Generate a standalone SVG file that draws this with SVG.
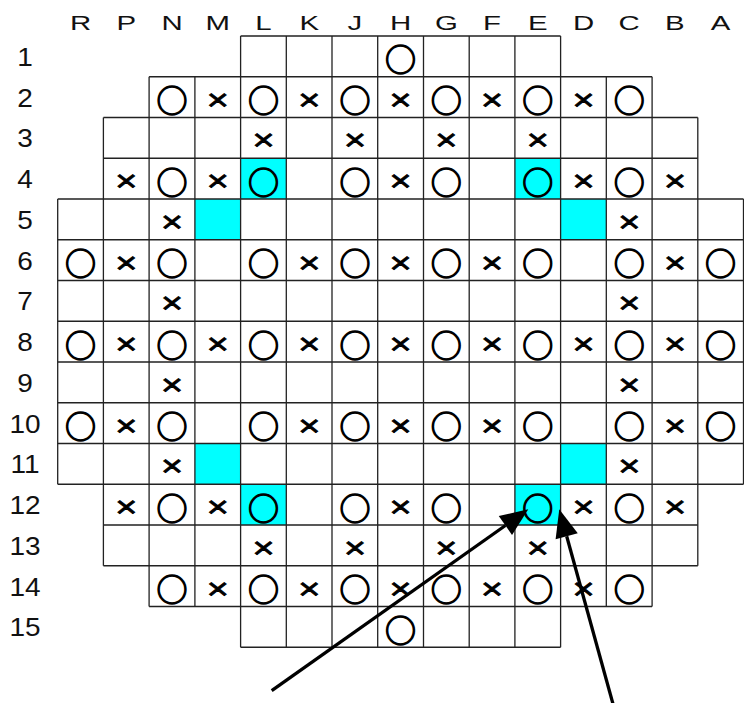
<svg xmlns="http://www.w3.org/2000/svg" width="744" height="703" viewBox="0 0 744 703">
<style>
.g{stroke:#222;stroke-width:1.3;fill:none}
.cy{fill:#00ffff}
.lt{font-family:"Liberation Sans",Arial,sans-serif;font-size:21px;fill:#111;text-anchor:middle}
.nm{font-family:"Liberation Sans",Arial,sans-serif;font-size:25px;fill:#111;text-anchor:middle}
.o{font-family:"Noto Sans CJK JP",sans-serif;font-size:31px;fill:#000;stroke:#000;stroke-width:1.3;text-anchor:middle;dominant-baseline:central}
.x{font-family:"Liberation Sans",Arial,sans-serif;font-size:29px;fill:#000;stroke:#000;stroke-width:0.8;text-anchor:middle;dominant-baseline:central}
.ar{stroke:#000;stroke-width:3.3;fill:none;marker-end:url(#ah)}
</style>
<defs>
<marker id="ah" markerUnits="userSpaceOnUse" markerWidth="28" markerHeight="23" refX="0" refY="11.5" orient="auto" overflow="visible"><path d="M0,0 L28,11.5 L0,23 z" fill="#000"/></marker>
</defs>
<rect width="744" height="703" fill="#fff"/>
<g id="cyan-cells">
<rect class="cy" x="240.6" y="158.25" width="45.7" height="40.75"/>
<rect class="cy" x="514.9" y="158.25" width="45.7" height="40.75"/>
<rect class="cy" x="194.9" y="199" width="45.7" height="40.75"/>
<rect class="cy" x="560.6" y="199" width="45.7" height="40.75"/>
<rect class="cy" x="194.9" y="443.5" width="45.7" height="40.75"/>
<rect class="cy" x="560.6" y="443.5" width="45.7" height="40.75"/>
<rect class="cy" x="240.6" y="484.25" width="45.7" height="40.75"/>
<rect class="cy" x="514.9" y="484.25" width="45.7" height="40.75"/>
</g>
<g id="grid">
<path class="g" d="M240.6,36H560.6M149.1,76.75H652.1M103.4,117.5H697.8M103.4,158.25H697.8M57.7,199H743.5M57.7,239.75H743.5M57.7,280.5H743.5M57.7,321.25H743.5M57.7,362H743.5M57.7,402.75H743.5M57.7,443.5H743.5M57.7,484.25H743.5M103.4,525H697.8M103.4,565.75H697.8M149.1,606.5H652.1M240.6,647.25H560.6"/>
<path class="g" d="M57.7,199V484.25M103.4,117.5V565.75M149.1,76.75V606.5M194.9,76.75V606.5M240.6,36V647.25M286.3,36V647.25M332,36V647.25M377.7,36V647.25M423.5,36V647.25M469.2,36V647.25M514.9,36V647.25M560.6,36V647.25M606.3,76.75V606.5M652.1,76.75V606.5M697.8,117.5V565.75M743.5,199V484.25"/>
</g>
<g id="column-labels">
<text class="lt" transform="translate(80.6,30) scale(1.4,1)">R</text>
<text class="lt" transform="translate(126.3,30) scale(1.4,1)">P</text>
<text class="lt" transform="translate(172,30) scale(1.4,1)">N</text>
<text class="lt" transform="translate(217.7,30) scale(1.4,1)">M</text>
<text class="lt" transform="translate(263.4,30) scale(1.4,1)">L</text>
<text class="lt" transform="translate(309.2,30) scale(1.4,1)">K</text>
<text class="lt" transform="translate(354.9,30) scale(1.4,1)">J</text>
<text class="lt" transform="translate(400.6,30) scale(1.4,1)">H</text>
<text class="lt" transform="translate(446.3,30) scale(1.4,1)">G</text>
<text class="lt" transform="translate(492,30) scale(1.4,1)">F</text>
<text class="lt" transform="translate(537.8,30) scale(1.4,1)">E</text>
<text class="lt" transform="translate(583.5,30) scale(1.4,1)">D</text>
<text class="lt" transform="translate(629.2,30) scale(1.4,1)">C</text>
<text class="lt" transform="translate(674.9,30) scale(1.4,1)">B</text>
<text class="lt" transform="translate(720.6,30) scale(1.4,1)">A</text>
</g>
<g id="row-labels">
<text class="nm" transform="translate(25,65.9) scale(1.12,1)">1</text>
<text class="nm" transform="translate(25,106.6) scale(1.12,1)">2</text>
<text class="nm" transform="translate(25,147.4) scale(1.12,1)">3</text>
<text class="nm" transform="translate(25,188.1) scale(1.12,1)">4</text>
<text class="nm" transform="translate(25,228.9) scale(1.12,1)">5</text>
<text class="nm" transform="translate(25,269.6) scale(1.12,1)">6</text>
<text class="nm" transform="translate(25,310.4) scale(1.12,1)">7</text>
<text class="nm" transform="translate(25,351.1) scale(1.12,1)">8</text>
<text class="nm" transform="translate(25,391.9) scale(1.12,1)">9</text>
<text class="nm" transform="translate(25,432.6) scale(1.12,1)">10</text>
<text class="nm" transform="translate(25,473.4) scale(1.12,1)">11</text>
<text class="nm" transform="translate(25,514.1) scale(1.12,1)">12</text>
<text class="nm" transform="translate(25,554.9) scale(1.12,1)">13</text>
<text class="nm" transform="translate(25,595.6) scale(1.12,1)">14</text>
<text class="nm" transform="translate(25,636.4) scale(1.12,1)">15</text>
</g>
<g id="circles">
<text class="o" x="400.6" y="57.9">○</text>
<text class="o" x="172" y="98.6">○</text><text class="o" x="263.4" y="98.6">○</text><text class="o" x="354.9" y="98.6">○</text><text class="o" x="446.3" y="98.6">○</text><text class="o" x="537.8" y="98.6">○</text><text class="o" x="629.2" y="98.6">○</text>
<text class="o" x="172" y="180.1">○</text><text class="o" x="263.4" y="180.1">○</text><text class="o" x="354.9" y="180.1">○</text><text class="o" x="446.3" y="180.1">○</text><text class="o" x="537.8" y="180.1">○</text><text class="o" x="629.2" y="180.1">○</text>
<text class="o" x="80.6" y="261.6">○</text><text class="o" x="172" y="261.6">○</text><text class="o" x="263.4" y="261.6">○</text><text class="o" x="354.9" y="261.6">○</text><text class="o" x="446.3" y="261.6">○</text><text class="o" x="537.8" y="261.6">○</text><text class="o" x="629.2" y="261.6">○</text><text class="o" x="720.6" y="261.6">○</text>
<text class="o" x="80.6" y="343.1">○</text><text class="o" x="172" y="343.1">○</text><text class="o" x="263.4" y="343.1">○</text><text class="o" x="354.9" y="343.1">○</text><text class="o" x="446.3" y="343.1">○</text><text class="o" x="537.8" y="343.1">○</text><text class="o" x="629.2" y="343.1">○</text><text class="o" x="720.6" y="343.1">○</text>
<text class="o" x="80.6" y="424.6">○</text><text class="o" x="172" y="424.6">○</text><text class="o" x="263.4" y="424.6">○</text><text class="o" x="354.9" y="424.6">○</text><text class="o" x="446.3" y="424.6">○</text><text class="o" x="537.8" y="424.6">○</text><text class="o" x="629.2" y="424.6">○</text><text class="o" x="720.6" y="424.6">○</text>
<text class="o" x="172" y="506.1">○</text><text class="o" x="263.4" y="506.1">○</text><text class="o" x="354.9" y="506.1">○</text><text class="o" x="446.3" y="506.1">○</text><text class="o" x="537.8" y="506.1">○</text><text class="o" x="629.2" y="506.1">○</text>
<text class="o" x="172" y="587.6">○</text><text class="o" x="263.4" y="587.6">○</text><text class="o" x="354.9" y="587.6">○</text><text class="o" x="446.3" y="587.6">○</text><text class="o" x="537.8" y="587.6">○</text><text class="o" x="629.2" y="587.6">○</text>
<text class="o" x="400.6" y="628.4">○</text>
</g>
<g id="crosses">
<text class="x" transform="translate(217.7,99.6) scale(1.3,1)">×</text><text class="x" transform="translate(309.2,99.6) scale(1.3,1)">×</text><text class="x" transform="translate(400.6,99.6) scale(1.3,1)">×</text><text class="x" transform="translate(492,99.6) scale(1.3,1)">×</text><text class="x" transform="translate(583.5,99.6) scale(1.3,1)">×</text>
<text class="x" transform="translate(263.4,140.4) scale(1.3,1)">×</text><text class="x" transform="translate(354.9,140.4) scale(1.3,1)">×</text><text class="x" transform="translate(446.3,140.4) scale(1.3,1)">×</text><text class="x" transform="translate(537.8,140.4) scale(1.3,1)">×</text>
<text class="x" transform="translate(126.3,181.1) scale(1.3,1)">×</text><text class="x" transform="translate(217.7,181.1) scale(1.3,1)">×</text><text class="x" transform="translate(400.6,181.1) scale(1.3,1)">×</text><text class="x" transform="translate(583.5,181.1) scale(1.3,1)">×</text><text class="x" transform="translate(674.9,181.1) scale(1.3,1)">×</text>
<text class="x" transform="translate(172,221.9) scale(1.3,1)">×</text><text class="x" transform="translate(629.2,221.9) scale(1.3,1)">×</text>
<text class="x" transform="translate(126.3,262.6) scale(1.3,1)">×</text><text class="x" transform="translate(309.2,262.6) scale(1.3,1)">×</text><text class="x" transform="translate(400.6,262.6) scale(1.3,1)">×</text><text class="x" transform="translate(492,262.6) scale(1.3,1)">×</text><text class="x" transform="translate(674.9,262.6) scale(1.3,1)">×</text>
<text class="x" transform="translate(172,303.4) scale(1.3,1)">×</text><text class="x" transform="translate(629.2,303.4) scale(1.3,1)">×</text>
<text class="x" transform="translate(126.3,344.1) scale(1.3,1)">×</text><text class="x" transform="translate(217.7,344.1) scale(1.3,1)">×</text><text class="x" transform="translate(309.2,344.1) scale(1.3,1)">×</text><text class="x" transform="translate(400.6,344.1) scale(1.3,1)">×</text><text class="x" transform="translate(492,344.1) scale(1.3,1)">×</text><text class="x" transform="translate(583.5,344.1) scale(1.3,1)">×</text><text class="x" transform="translate(674.9,344.1) scale(1.3,1)">×</text>
<text class="x" transform="translate(172,384.9) scale(1.3,1)">×</text><text class="x" transform="translate(629.2,384.9) scale(1.3,1)">×</text>
<text class="x" transform="translate(126.3,425.6) scale(1.3,1)">×</text><text class="x" transform="translate(309.2,425.6) scale(1.3,1)">×</text><text class="x" transform="translate(400.6,425.6) scale(1.3,1)">×</text><text class="x" transform="translate(492,425.6) scale(1.3,1)">×</text><text class="x" transform="translate(674.9,425.6) scale(1.3,1)">×</text>
<text class="x" transform="translate(172,466.4) scale(1.3,1)">×</text><text class="x" transform="translate(629.2,466.4) scale(1.3,1)">×</text>
<text class="x" transform="translate(126.3,507.1) scale(1.3,1)">×</text><text class="x" transform="translate(217.7,507.1) scale(1.3,1)">×</text><text class="x" transform="translate(400.6,507.1) scale(1.3,1)">×</text><text class="x" transform="translate(583.5,507.1) scale(1.3,1)">×</text><text class="x" transform="translate(674.9,507.1) scale(1.3,1)">×</text>
<text class="x" transform="translate(263.4,547.9) scale(1.3,1)">×</text><text class="x" transform="translate(354.9,547.9) scale(1.3,1)">×</text><text class="x" transform="translate(446.3,547.9) scale(1.3,1)">×</text><text class="x" transform="translate(537.8,547.9) scale(1.3,1)">×</text>
<text class="x" transform="translate(217.7,588.6) scale(1.3,1)">×</text><text class="x" transform="translate(309.2,588.6) scale(1.3,1)">×</text><text class="x" transform="translate(400.6,588.6) scale(1.3,1)">×</text><text class="x" transform="translate(492,588.6) scale(1.3,1)">×</text><text class="x" transform="translate(583.5,588.6) scale(1.3,1)">×</text>
</g>
<g id="connectors">
<line class="ar" x1="271.7" y1="690.7" x2="505.4" y2="525.5"/>
<line class="ar" x1="613.3" y1="705" x2="566.7" y2="536.3"/>
</g>
</svg>
